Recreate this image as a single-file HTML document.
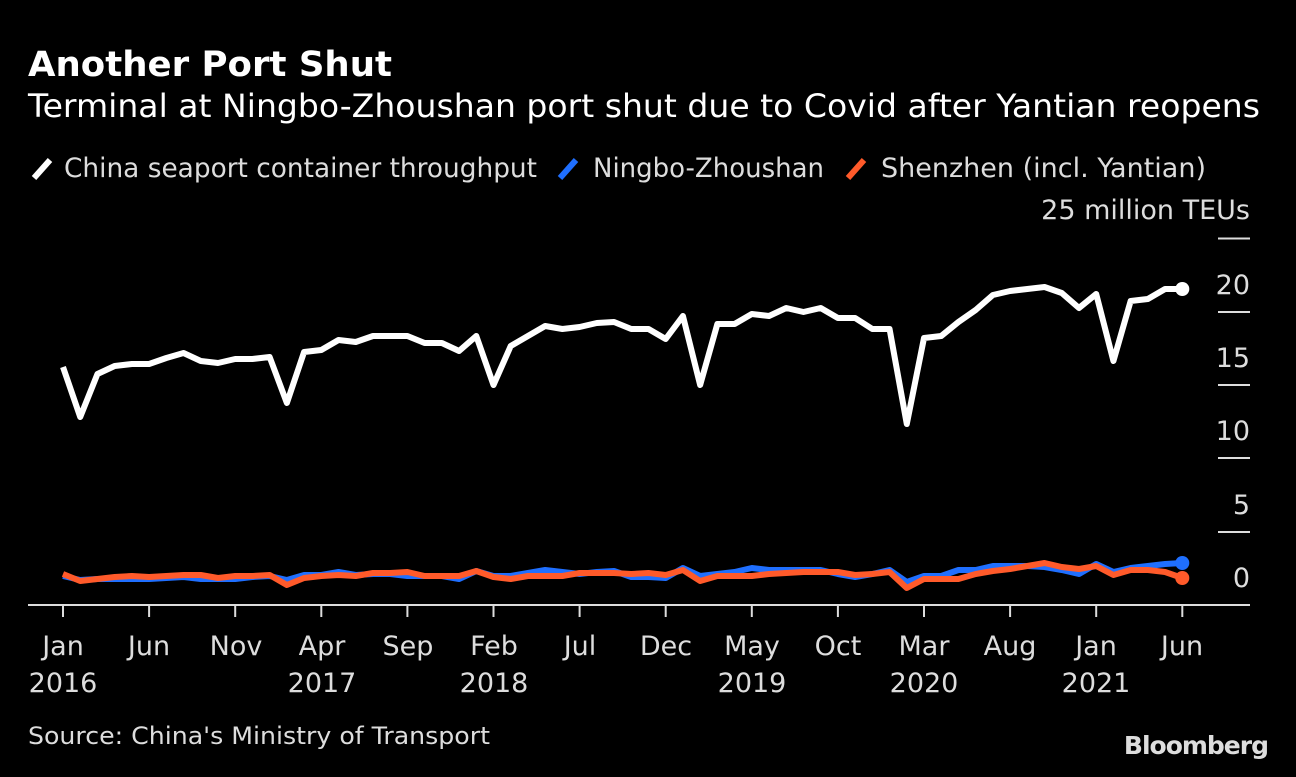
<!DOCTYPE html>
<html><head><meta charset="utf-8"><style>
body{margin:0;background:#000;width:1296px;height:772px;overflow:hidden}
svg text{font-family:"DejaVu Sans","Liberation Sans",sans-serif}
</style></head><body>
<svg width="1296" height="772" xmlns="http://www.w3.org/2000/svg">
<rect width="1296" height="772" fill="#000"/>
<text x="28" y="76" fill="#fff" font-size="35" font-weight="bold" textLength="364" lengthAdjust="spacingAndGlyphs">Another Port Shut</text>
<text x="28" y="117" fill="#fff" font-size="32" textLength="1232" lengthAdjust="spacingAndGlyphs">Terminal at Ningbo-Zhoushan port shut due to Covid after Yantian reopens</text>
<g font-size="27" fill="#ddd">
<line x1="34" y1="178" x2="50" y2="160" stroke="#fff" stroke-width="6"/>
<text x="64" y="177" textLength="473" lengthAdjust="spacingAndGlyphs">China seaport container throughput</text>
<line x1="560" y1="178" x2="576" y2="160" stroke="#1f6fff" stroke-width="6"/>
<text x="593" y="177" textLength="231" lengthAdjust="spacingAndGlyphs">Ningbo-Zhoushan</text>
<line x1="848" y1="178" x2="864" y2="160" stroke="#ff5a2a" stroke-width="6"/>
<text x="881" y="177" textLength="325" lengthAdjust="spacingAndGlyphs">Shenzhen (incl. Yantian)</text>
</g>
<g font-size="27" fill="#ddd" text-anchor="end">
<text x="1250" y="219">25 million TEUs</text>
<text x="1250" y="294">20</text>
<text x="1250" y="367">15</text>
<text x="1250" y="440">10</text>
<text x="1250" y="514">5</text>
<text x="1250" y="587">0</text>
</g>
<g stroke="#ddd" stroke-width="2">
<line x1="1218" y1="238.5" x2="1250" y2="238.5"/>
<line x1="1218" y1="312" x2="1250" y2="312"/>
<line x1="1218" y1="385" x2="1250" y2="385"/>
<line x1="1218" y1="458" x2="1250" y2="458"/>
<line x1="1218" y1="532" x2="1250" y2="532"/>
<line x1="28" y1="605" x2="1250" y2="605"/>
</g>
<g id="ticks" stroke="#ddd" stroke-width="2"></g>
<g font-size="27" fill="#ddd" text-anchor="middle">
<text x="63" y="655">Jan</text><text x="63" y="692">2016</text>
<text x="149" y="655">Jun</text>
<text x="236" y="655">Nov</text>
<text x="322" y="655">Apr</text><text x="322" y="692">2017</text>
<text x="408" y="655">Sep</text>
<text x="494" y="655">Feb</text><text x="494" y="692">2018</text>
<text x="580" y="655">Jul</text>
<text x="666" y="655">Dec</text>
<text x="752" y="655">May</text><text x="752" y="692">2019</text>
<text x="838" y="655">Oct</text>
<text x="924" y="655">Mar</text><text x="924" y="692">2020</text>
<text x="1010" y="655">Aug</text>
<text x="1096" y="655">Jan</text><text x="1096" y="692">2021</text>
<text x="1182" y="655">Jun</text>
</g>
<text x="28" y="744" fill="#ddd" font-size="24" textLength="462" lengthAdjust="spacingAndGlyphs">Source: China's Ministry of Transport</text>
<text x="1268" y="754" fill="#ddd" font-size="25" font-weight="bold" text-anchor="end" letter-spacing="-1">Bloomberg</text>
<g id="series" fill="none" stroke-width="6" stroke-linejoin="round"></g>
</svg>
<script>
var W=[367,417,374,366,364,364,358,353,361,363,359,359,357,403,352,350,340,342,336,336,336,343,343,351,336,385,346,336,326,329,327,323,322,329,329,339,316,385,324,324,314,316,308,312,308,318,318,329,329,424,338,336,322,310,295,291,289,287,293,308,294,361,301,299,289,289];
var O=[574,581,579,577,576,577,576,575,575,578,576,576,575,585,578,576,575,576,573,573,572,576,576,576,571,577,579,576,576,576,573,573,573,574,573,575,570,581,576,576,576,574,573,572,572,572,575,574,572,588,579,579,579,574,571,569,566,563,567,569,566,575,570,570,572,578];
var B=[576,580,579,579,579,579,578,577,579,579,579,577,576,580,575,575,572,575,574,574,576,576,576,579,571,576,576,573,570,572,574,572,571,577,577,578,568,576,574,572,568,570,570,570,570,574,577,574,570,582,576,576,570,570,566,566,566,567,570,574,564,572,568,566,564,563];
var ns="http://www.w3.org/2000/svg",g=document.getElementById('series');
function x(i){return 63+i*17.22}
function line(a,c){var p=document.createElementNS(ns,'polyline');p.setAttribute('points',a.map(function(v,i){return x(i)+','+v}).join(' '));p.setAttribute('stroke',c);g.appendChild(p);
var d=document.createElementNS(ns,'circle');d.setAttribute('cx',x(a.length-1));d.setAttribute('cy',a[a.length-1]);d.setAttribute('r',7);d.setAttribute('fill',c);d.setAttribute('stroke','none');g.appendChild(d);}
line(B,'#1f6fff');line(O,'#ff5a2a');line(W,'#fff');
var t=document.getElementById('ticks');
for(var k=0;k<14;k++){var l=document.createElementNS(ns,'line');var xx=63+k*86.1;l.setAttribute('x1',xx);l.setAttribute('x2',xx);l.setAttribute('y1',605);l.setAttribute('y2',617);t.appendChild(l);}
</script>
</body></html>
